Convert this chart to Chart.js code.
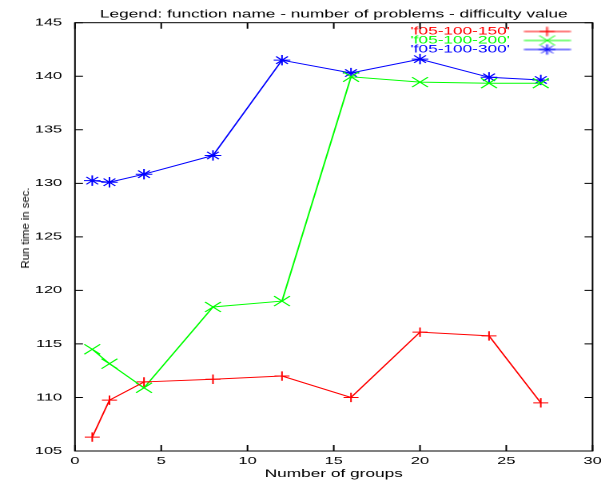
<!DOCTYPE html>
<html>
<head>
<meta charset="utf-8">
<script src="https://cdn.jsdelivr.net/npm/chart.js@4/dist/chart.umd.min.js"></script>
<style>
  html, body { margin: 0; padding: 0; background: #fff; overflow: hidden; }
  /* the reference is stretched sideways, so the chart is drawn narrow and scaled up in x */
  #wrap { width: 376px; height: 482px; transform: scaleX(1.5984); transform-origin: 0 0; }
  #ytitle {
    position: absolute; left: 24.5px; top: 227.5px;
    transform: translate(-50%, -50%) rotate(-90deg);
    font: 11.3px "Liberation Sans", Arial, sans-serif; color: #000; white-space: nowrap;
  }
</style>
</head>
<body>
<div id="wrap"><canvas id="chart"></canvas></div>
<div id="ytitle"></div>
<script>
const FONT = '"Liberation Sans", Arial, sans-serif';

// data
const groups = [1, 2, 4, 8, 12, 16, 20, 24, 27];
const run150 = [106.3, 109.75, 111.45, 111.7, 112.0, 110.0, 116.1, 115.75, 109.5];
const run200 = [114.5, 113.15, 110.9, 118.45, 119.0, 139.95, 139.45, 139.35, 139.35];
const run300 = [130.25, 130.1, 130.85, 132.6, 141.5, 140.3, 141.6, 139.9, 139.65];
const seriesNames = ["'f05-100-150'", "'f05-100-200'", "'f05-100-300'"];
const colors = ['#ff0000', '#00ff00', '#0000ff'];
const markers = ['cross', 'crossRot', 'star'];
const markerSize = [4.7, 7, 5.2];
const chartTitle = 'Legend: function name - number of problems - difficulty value';
const xTitle = 'Number of groups';
const yTitle = 'Run time in sec.';

document.getElementById('ytitle').textContent = yTitle;

const toPoints = vals => vals.map((v, i) => ({ x: groups[i], y: v }));

// legend sample: a short line with the marker in the middle
function sample(i) {
    const c = document.createElement('canvas');
    c.width = 48; c.height = 14;
    const g = c.getContext('2d');
    g.strokeStyle = colors[i];
    g.fillStyle = 'rgba(0,0,0,0)';
    g.lineWidth = 1;
    g.beginPath(); g.moveTo(3.3, 7); g.lineTo(32.7, 7); g.stroke();
    Chart.helpers.drawPoint(g, { pointStyle: markers[i], radius: markerSize[i], borderWidth: 1 }, 17.8, 7);
    return c;
}
const samples = [0, 1, 2].map(sample);

// gnuplot style frame with inward ticks on all sides
const frame = {
    id: 'frame',
    afterLayout(chart) {
        // legend sits in the top right corner of the plot
        const lg = chart.legend, a = chart.chartArea;
        const w = lg.width, h = lg.height;
        lg.left = a.right - w; lg.right = a.right;
        lg.top = a.top; lg.bottom = a.top + h;
    },
    afterDatasetsDraw(chart) {
        const { ctx, chartArea: a, scales: { x, y } } = chart;
        ctx.save();
        ctx.strokeStyle = '#000';
        ctx.lineWidth = 1;
        ctx.strokeRect(a.left, a.top, a.right - a.left, a.bottom - a.top);
        ctx.beginPath();
        x.ticks.forEach(t => {
            const px = x.getPixelForValue(t.value);
            ctx.moveTo(px, a.bottom); ctx.lineTo(px, a.bottom - 6);
            ctx.moveTo(px, a.top); ctx.lineTo(px, a.top + 6);
        });
        y.ticks.forEach(t => {
            const py = y.getPixelForValue(t.value);
            ctx.moveTo(a.left, py); ctx.lineTo(a.left + 5, py);
            ctx.moveTo(a.right, py); ctx.lineTo(a.right - 5, py);
        });
        ctx.stroke();
        ctx.restore();
    }
};

new Chart(document.getElementById('chart'), {
    type: 'line',
    data: {
        datasets: [run150, run200, run300].map((vals, i) => ({
            label: seriesNames[i],
            data: toPoints(vals),
            borderColor: colors[i],
            borderWidth: 1,
            pointStyle: markers[i],
            pointRadius: markerSize[i],
            pointBorderWidth: 1,
            pointBorderColor: colors[i],
            pointBackgroundColor: 'rgba(0,0,0,0)',
            tension: 0
        }))
    },
    options: {
        responsive: true,
        maintainAspectRatio: false,
        animation: false,
        devicePixelRatio: 2,
        layout: { autoPadding: false, padding: { left: 0, right: 5.3, top: 0, bottom: 0 } },
        plugins: {
            title: {
                display: true, text: chartTitle, fullSize: false, color: '#000',
                font: { family: FONT, size: 10.8, weight: 'normal', lineHeight: 1 },
                padding: { top: 9, bottom: 2.9 }
            },
            legend: {
                position: 'chartArea',
                align: 'start',
                rtl: true,
                title: { display: true, text: '', padding: 0, font: { size: 5.2, lineHeight: 1 } },
                labels: {
                    usePointStyle: true,
                    pointStyleWidth: 48,
                    padding: -1.8,
                    font: { family: FONT, size: 10.8 },
                    generateLabels: chart => chart.data.datasets.map((ds, i) => ({
                        text: ds.label,
                        fontColor: colors[i],
                        pointStyle: samples[i],
                        fillStyle: 'rgba(0,0,0,0)',
                        strokeStyle: colors[i],
                        lineWidth: 0,
                        hidden: false,
                        datasetIndex: i
                    }))
                }
            },
            tooltip: { enabled: false }
        },
        scales: {
            x: {
                type: 'linear', min: 0, max: 30,
                grid: { display: false, drawTicks: false },
                border: { display: false },
                ticks: { stepSize: 5, padding: 4, color: '#000', font: { family: FONT, size: 10.3 } },
                title: {
                    display: true, text: xTitle, color: '#000',
                    font: { family: FONT, size: 10.8, lineHeight: 1 },
                    padding: { top: 0, bottom: 2.6 }
                },
                afterFit: s => { s.height = 31; s.paddingLeft = 0; s.paddingRight = 0; }
            },
            y: {
                min: 105, max: 145,
                grid: { display: false, drawTicks: false },
                border: { display: false },
                ticks: { stepSize: 5, padding: 8, color: '#000', font: { family: FONT, size: 10.3 } },
                afterFit: s => { s.width = 46.9; s.paddingTop = 0; s.paddingBottom = 0; }
            }
        }
    },
    plugins: [frame]
});
</script>
</body>
</html>
